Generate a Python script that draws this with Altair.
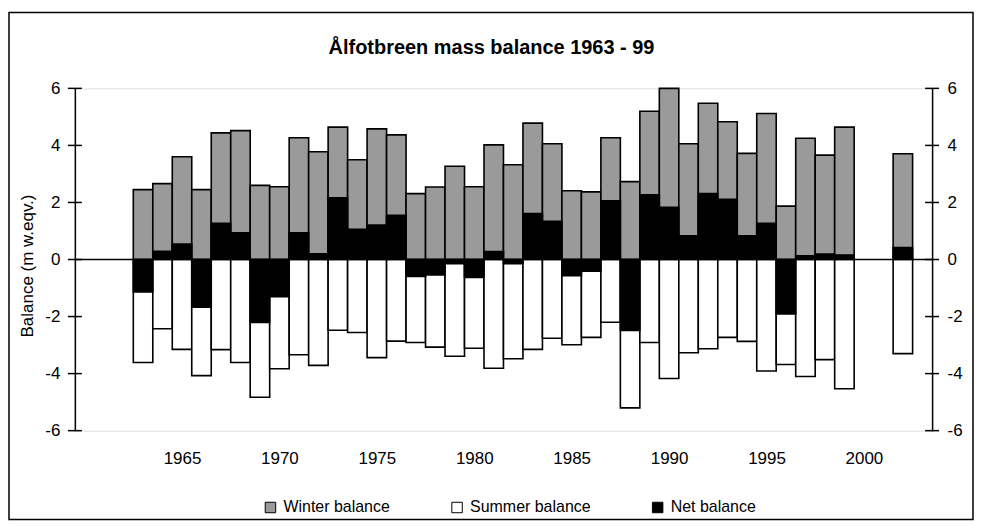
import altair as alt
import pandas as pd

# ---- data ----
years = [1963, 1964, 1965, 1966, 1967, 1968, 1969, 1970, 1971, 1972, 1973, 1974, 1975, 1976,
         1977, 1978, 1979, 1980, 1981, 1982, 1983, 1984, 1985, 1986, 1987, 1988, 1989, 1990,
         1991, 1992, 1993, 1994, 1995, 1996, 1997, 1998, 1999, 2002]
winter = [2.45, 2.66, 3.60, 2.45, 4.44, 4.52, 2.60, 2.55, 4.27, 3.78, 4.64, 3.50, 4.58, 4.37,
          2.31, 2.54, 3.27, 2.55, 4.02, 3.32, 4.78, 4.06, 2.41, 2.37, 4.27, 2.73, 5.20, 6.00,
          4.06, 5.48, 4.83, 3.72, 5.12, 1.87, 4.25, 3.66, 4.64, 3.71]
summer = [-3.61, -2.43, -3.15, -4.07, -3.16, -3.61, -4.83, -3.83, -3.34, -3.71, -2.48, -2.56, -3.44, -2.86,
          -2.91, -3.07, -3.39, -3.11, -3.81, -3.48, -3.15, -2.76, -2.99, -2.73, -2.20, -5.20, -2.91, -4.17,
          -3.27, -3.13, -2.73, -2.87, -3.91, -3.68, -4.10, -3.51, -4.53, -3.30]
net = [-1.14, 0.29, 0.54, -1.67, 1.27, 0.94, -2.21, -1.30, 0.94, 0.20, 2.16, 1.06, 1.21, 1.55,
       -0.59, -0.54, -0.15, -0.63, 0.28, -0.15, 1.61, 1.34, -0.57, -0.41, 2.06, -2.49, 2.27, 1.83,
       0.83, 2.31, 2.11, 0.83, 1.27, -1.91, 0.13, 0.19, 0.16, 0.42]
series_names = ["Winter balance", "Summer balance", "Net balance"]
series_colors = ["#9a9a9a", "#ffffff", "#000000"]
x_tick_years = [1965, 1970, 1975, 1980, 1985, 1990, 1995, 2000]
y_ticks = [-6, -4, -2, 0, 2, 4, 6]
title_text = "Ålfotbreen mass balance 1963 - 99"
y_title = "Balance (m w.eqv.)"

rows = []
for yr, w, s, n in zip(years, winter, summer, net):
    rows.append({"year": yr, "series": series_names[0], "value": w})
    rows.append({"year": yr, "series": series_names[1], "value": s})
    rows.append({"year": yr, "series": series_names[2], "value": n})
df = pd.DataFrame(rows)
ticks_df = pd.DataFrame({"value": y_ticks})
one_df = pd.DataFrame({"a": [0]})

W, H = 859, 343
FONT = "Liberation Sans"

xscale = alt.Scale(domain=[1959.5, 2003.5], nice=False, zero=False)
yscale = alt.Scale(domain=[-6, 6], nice=False, zero=False)

color = alt.Color(
    "series:N",
    scale=alt.Scale(domain=series_names, range=series_colors),
    legend=alt.Legend(
        title=None, orient="none", direction="horizontal", legendX=188, legendY=412,
        symbolType="square", symbolSize=110, symbolStrokeColor="black", symbolStrokeWidth=1,
        symbolOpacity=1, labelFont=FONT, labelFontSize=16, labelColor="black",
        columnPadding=59, labelOffset=5,
    ),
)

x_axis = alt.Axis(values=x_tick_years, format="d", domain=False, ticks=False, grid=False,
                  labelPadding=20, labelFont=FONT, labelFontSize=17, labelColor="black", title=None)
left_axis = alt.Axis(values=y_ticks, domain=True, domainColor="black", domainWidth=1.5, ticks=False,
                     grid=False, labelPadding=15, labelFont=FONT, labelFontSize=17, labelColor="black",
                     labelExpr="datum.value + ''",
                     title=y_title, titleFont=FONT, titleFontSize=17, titleFontWeight="normal",
                     titleColor="black", titlePadding=8, titleY=H / 2 + 6)
right_axis = alt.Axis(orient="right", values=y_ticks, domain=True, domainColor="black", domainWidth=1.5,
                      ticks=False, grid=False, labelPadding=15, labelFont=FONT, labelFontSize=17,
                      labelExpr="datum.value + ''", labelColor="black", title=None)

base = alt.Chart(df).transform_calculate(x0="datum.year - 0.5", x1="datum.year + 0.5")


def bars(name):
    return base.transform_filter(alt.datum.series == name).mark_bar(
        stroke="black", strokeWidth=1.6, opacity=1
    ).encode(
        x=alt.X("x0:Q", scale=xscale, axis=x_axis),
        x2="x1:Q",
        y=alt.Y("value:Q", scale=yscale, axis=left_axis),
        y2=alt.datum(0),
        color=color,
    )


zero_line = alt.Chart(ticks_df).transform_filter("datum.value == 0").mark_rule(
    color="black", strokeWidth=1.5
).encode(y=alt.Y("value:Q", scale=yscale, axis=left_axis))

left_ticks = alt.Chart(ticks_df).mark_rule(color="black", strokeWidth=1.5).encode(
    y=alt.Y("value:Q", scale=yscale, axis=left_axis), x=alt.value(-7), x2=alt.value(7)
)

frame = alt.Chart(one_df).mark_rect(fillOpacity=0, stroke="black", strokeWidth=1.5).encode(
    x=alt.value(-66), x2=alt.value(900), y=alt.value(-76), y2=alt.value(432)
)

title = alt.Chart(one_df).mark_text(
    text=title_text, font=FONT, fontSize=20, fontWeight="bold", color="black",
    align="center", baseline="middle"
).encode(x=alt.value(W / 2 - 12), y=alt.value(-40))

main = alt.layer(frame, title, zero_line, bars(series_names[0]), bars(series_names[1]),
                 bars(series_names[2]), left_ticks)

right_ticks = alt.Chart(ticks_df).mark_rule(color="black", strokeWidth=1.5).encode(
    y=alt.Y("value:Q", scale=yscale, axis=right_axis), x=alt.value(W - 7), x2=alt.value(W + 7)
)

chart = alt.layer(main, right_ticks).resolve_scale(y="independent").properties(
    width=W, height=H,
    padding={"left": 0, "top": 3, "right": 0, "bottom": 0},
).configure_view(stroke=None).configure_axis(grid=False).configure(background="white")

chart.save("out.html", embed_options={"renderer": "svg", "actions": False})
